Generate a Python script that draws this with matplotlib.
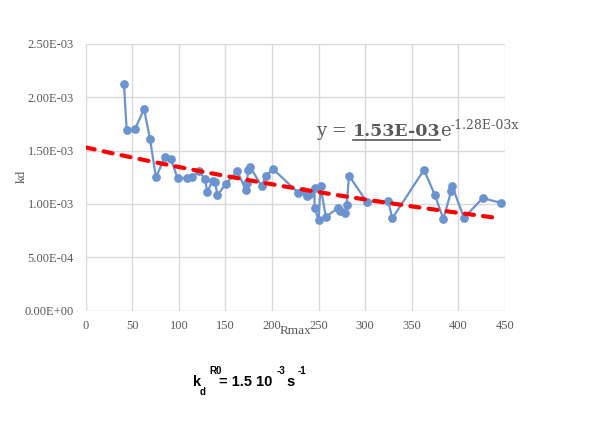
import numpy as np
import matplotlib
matplotlib.use("Agg")
import matplotlib.pyplot as plt
from matplotlib.lines import Line2D

# ---- data ----
rmax = [41.1, 44.0, 52.9, 62.6, 69.0, 75.4, 85.1, 91.5, 98.7, 108.4, 114.4,
        122.0, 128.0, 130.5, 136.3, 139.0, 141.2, 150.4, 162.7, 172.0, 172.8,
        174.5, 176.3, 188.9, 193.2, 201.3, 228.2, 233.6, 237.2, 240.7, 245.6,
        245.6, 250.0, 252.0, 257.7, 271.1, 272.9, 278.3, 280.1, 282.6, 301.6,
        324.8, 329.0, 363.1, 374.9, 383.8, 392.4, 393.2, 406.0, 426.1, 445.8]
kd = [2.12e-3, 1.69e-3, 1.70e-3, 1.89e-3, 1.61e-3, 1.25e-3, 1.44e-3, 1.42e-3,
      1.24e-3, 1.245e-3, 1.255e-3, 1.31e-3, 1.23e-3, 1.115e-3, 1.22e-3,
      1.21e-3, 1.08e-3, 1.19e-3, 1.305e-3, 1.13e-3, 1.195e-3, 1.32e-3,
      1.35e-3, 1.165e-3, 1.265e-3, 1.325e-3, 1.105e-3, 1.12e-3, 1.075e-3,
      1.09e-3, 1.15e-3, 0.965e-3, 0.85e-3, 1.165e-3, 0.88e-3, 0.965e-3,
      0.935e-3, 0.92e-3, 0.99e-3, 1.265e-3, 1.02e-3, 1.025e-3, 0.865e-3,
      1.32e-3, 1.08e-3, 0.86e-3, 1.125e-3, 1.17e-3, 0.87e-3, 1.055e-3, 1.01e-3]
fit_a = 1.53e-3
fit_b = -1.28e-3
x_ticks = [0, 50, 100, 150, 200, 250, 300, 350, 400, 450]
y_ticks = [0.0, 0.5e-3, 1.0e-3, 1.5e-3, 2.0e-3, 2.5e-3]
y_labels = ["0.00E+00", "5.00E-04", "1.00E-03", "1.50E-03", "2.00E-03", "2.50E-03"]

W, H = 600, 428
fig = plt.figure(figsize=(W / 100, H / 100), dpi=100)

def fx(px):
    return px / W

def fy(py):
    return (H - py) / H

L, R, T, B = 85.7, 505.0, 43.9, 310.7
ax = fig.add_axes([fx(L), fy(B), (R - L) / W, (B - T) / H])

gray = "#595959"
ax.set_xlim(0, 450)
ax.set_ylim(0, 2.5e-3)
ax.set_xticks(x_ticks)
ax.set_xticklabels([str(v) for v in x_ticks])
ax.set_yticks(y_ticks)
ax.set_yticklabels(y_labels)
for s in ax.spines.values():
    s.set_visible(False)
ax.grid(True, color="#D9D9D9", linewidth=1.0)
ax.set_axisbelow(True)
ax.tick_params(length=0, labelcolor=gray, labelsize=9)
ax.tick_params(axis="y", pad=8.5)
ax.tick_params(axis="x", pad=7)
for lab in ax.get_xticklabels() + ax.get_yticklabels():
    lab.set_family("Liberation Serif")

# data series
ax.plot(rmax, kd, color="#6A93CF", linewidth=1.6, marker="o",
        markersize=6.3, markeredgewidth=0, zorder=3, clip_on=False)

# exponential trend line
xt = np.linspace(0, max(rmax), 200)
ax.plot(xt, fit_a * np.exp(fit_b * xt), color="#FF0000", linewidth=3.0,
        dashes=(2.2, 2.2), dash_capstyle="round", zorder=4)

# axis titles
fig.text(fx(22), fy(176), "kd", rotation=90, ha="center", va="center",
         color=gray, family="Liberation Serif", fontsize=9.5)
fig.text(fx(295), fy(331), "Rmax", ha="center", va="center",
         color=gray, family="Liberation Serif", fontsize=9.5)

renderer = fig.canvas.get_renderer()

def chain(x0, base_py, pieces):
    x = x0
    out = []
    for txt, dy, props in pieces:
        t = fig.text(fx(x), fy(base_py + dy), txt, ha="left", va="baseline", **props)
        bb = t.get_window_extent(renderer)
        out.append((t, bb))
        x = x + bb.width
    return out

# equation of the trend line
eq_reg = dict(color=gray, family="DejaVu Serif", fontsize=13)
eq_bold = dict(color=gray, family="DejaVu Serif", fontsize=12.5, fontweight="bold")
eq_sup = dict(color=gray, family="DejaVu Serif", fontsize=9)
res = chain(316, 136, [("y = ", 0, eq_reg), ("1.53E-03", 0, eq_bold),
                       ("e", 0, eq_reg), ("-1.28E-03x", -7, eq_sup)])
bb = res[1][1]
fig.add_artist(Line2D([bb.x0 / W, bb.x1 / W], [fy(139.5), fy(139.5)],
                      color=gray, linewidth=1.2, transform=fig.transFigure))

# bottom annotation
bt = dict(color="black", family="Liberation Sans", fontsize=10.5, fontweight="bold")
bs = dict(color="black", family="Liberation Sans", fontsize=7, fontweight="bold")
fig.text(fx(193), fy(386), "k", ha="left", va="baseline", **bt)
fig.text(fx(200), fy(395), "d", ha="left", va="baseline", **bs)
fig.text(fx(209), fy(374), "R0", ha="left", va="baseline", **bs)
fig.text(fx(219), fy(386), "= 1.5 10", ha="left", va="baseline", **bt)
fig.text(fx(277), fy(374), "-3", ha="left", va="baseline", **bs)
fig.text(fx(286), fy(386), "s", ha="left", va="baseline", **bt)
fig.text(fx(298), fy(374), "-1", ha="left", va="baseline", **bs)

fig.savefig("out.png", dpi=100)
